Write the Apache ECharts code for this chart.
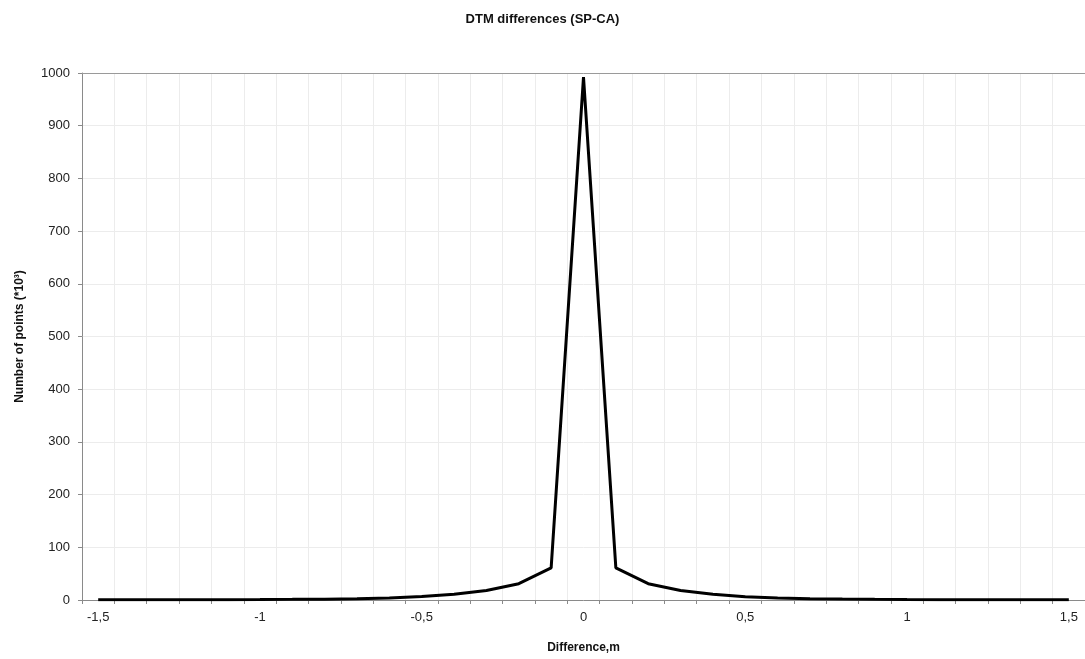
<!DOCTYPE html>
<html>
<head>
<meta charset="utf-8">
<title>DTM differences (SP-CA)</title>
<script src="https://cdn.jsdelivr.net/npm/echarts@6/dist/echarts.min.js"></script>
<style>
	html, body { margin: 0; padding: 0; background: #fff; }
	#chart { width: 1085px; height: 659px; }
</style>
</head>
<body>
<div id="chart"></div>
<script>
	// difference classes (m), one category per 0.1 m
	const diffs = [-1.5, -1.4, -1.3, -1.2, -1.1, -1.0, -0.9, -0.8, -0.7, -0.6, -0.5, -0.4, -0.3, -0.2, -0.1,
		0, 0.1, 0.2, 0.3, 0.4, 0.5, 0.6, 0.7, 0.8, 0.9, 1.0, 1.1, 1.2, 1.3, 1.4, 1.5];
	// number of points (*10^3)
	const points = [0.5, 0.5, 0.5, 0.6, 0.7, 0.9, 1.2, 1.6, 2.3, 3.8, 6.5, 11, 18, 31, 61,
		992, 61, 31, 18, 11, 6, 3.8, 2.5, 1.7, 1.2, 0.9, 0.7, 0.6, 0.5, 0.5, 0.5];
	const yTicks = [0, 100, 200, 300, 400, 500, 600, 700, 800, 900, 1000];

	const font = "'Liberation Sans', Arial, sans-serif";
	const fmt = v => String(v).replace(".", ",");

	let myChart = echarts.init(document.getElementById("chart"));
	let option = {
		animation: false,
		title: {
			text: "DTM differences (SP-CA)",
			left: "center",
			top: 8,
			textStyle: {
				fontFamily: font,
				fontSize: 13,
				fontWeight: "bold",
				color: "#111"
			}
		},
		grid: {
			left: 82,
			right: 0,
			top: 73,
			bottom: 58
		},
		xAxis: [{
			type: "category",
			data: diffs.map(fmt),
			boundaryGap: true,
			name: "Difference,m",
			nameLocation: "middle",
			nameGap: 42,
			nameTextStyle: {
				fontFamily: font,
				fontSize: 12,
				fontWeight: "bold",
				color: "#111"
			},
			axisLine: { lineStyle: { color: "#8a8a8a", width: 1 } },
			axisTick: { show: true, interval: 0, length: 4, lineStyle: { color: "#8a8a8a" } },
			axisLabel: {
				interval: 4,
				margin: 11,
				fontFamily: font,
				fontSize: 13,
				color: "#222"
			},
			splitLine: { show: true, interval: 0, lineStyle: { color: "#ececec", width: 1 } }
		}, {
			// top border of the plot area
			type: "category",
			data: diffs.map(fmt),
			position: "top",
			axisLine: { show: true, lineStyle: { color: "#9a9a9a", width: 1 } },
			axisTick: { show: false },
			axisLabel: { show: false },
			splitLine: { show: false }
		}],
		yAxis: {
			type: "value",
			min: yTicks[0],
			max: yTicks[yTicks.length - 1],
			interval: 100,
			name: "Number of points (*10³)",
			nameLocation: "middle",
			nameGap: 56,
			nameTextStyle: {
				fontFamily: font,
				fontSize: 12,
				fontWeight: "bold",
				color: "#111"
			},
			axisLine: { show: true, lineStyle: { color: "#8a8a8a", width: 1 } },
			axisTick: { show: true, length: 4, lineStyle: { color: "#8a8a8a" } },
			axisLabel: {
				margin: 12,
				fontFamily: font,
				fontSize: 13,
				color: "#222",
				formatter: v => String(v)
			},
			splitLine: { show: true, lineStyle: { color: "#ececec", width: 1 } }
		},
		series: [{
			name: "points",
			type: "line",
			xAxisIndex: 0,
			data: points,
			symbol: "none",
			smooth: false,
			lineStyle: { color: "#000", width: 3 }
		}]
	};
	myChart.setOption(option);
</script>
</body>
</html>
